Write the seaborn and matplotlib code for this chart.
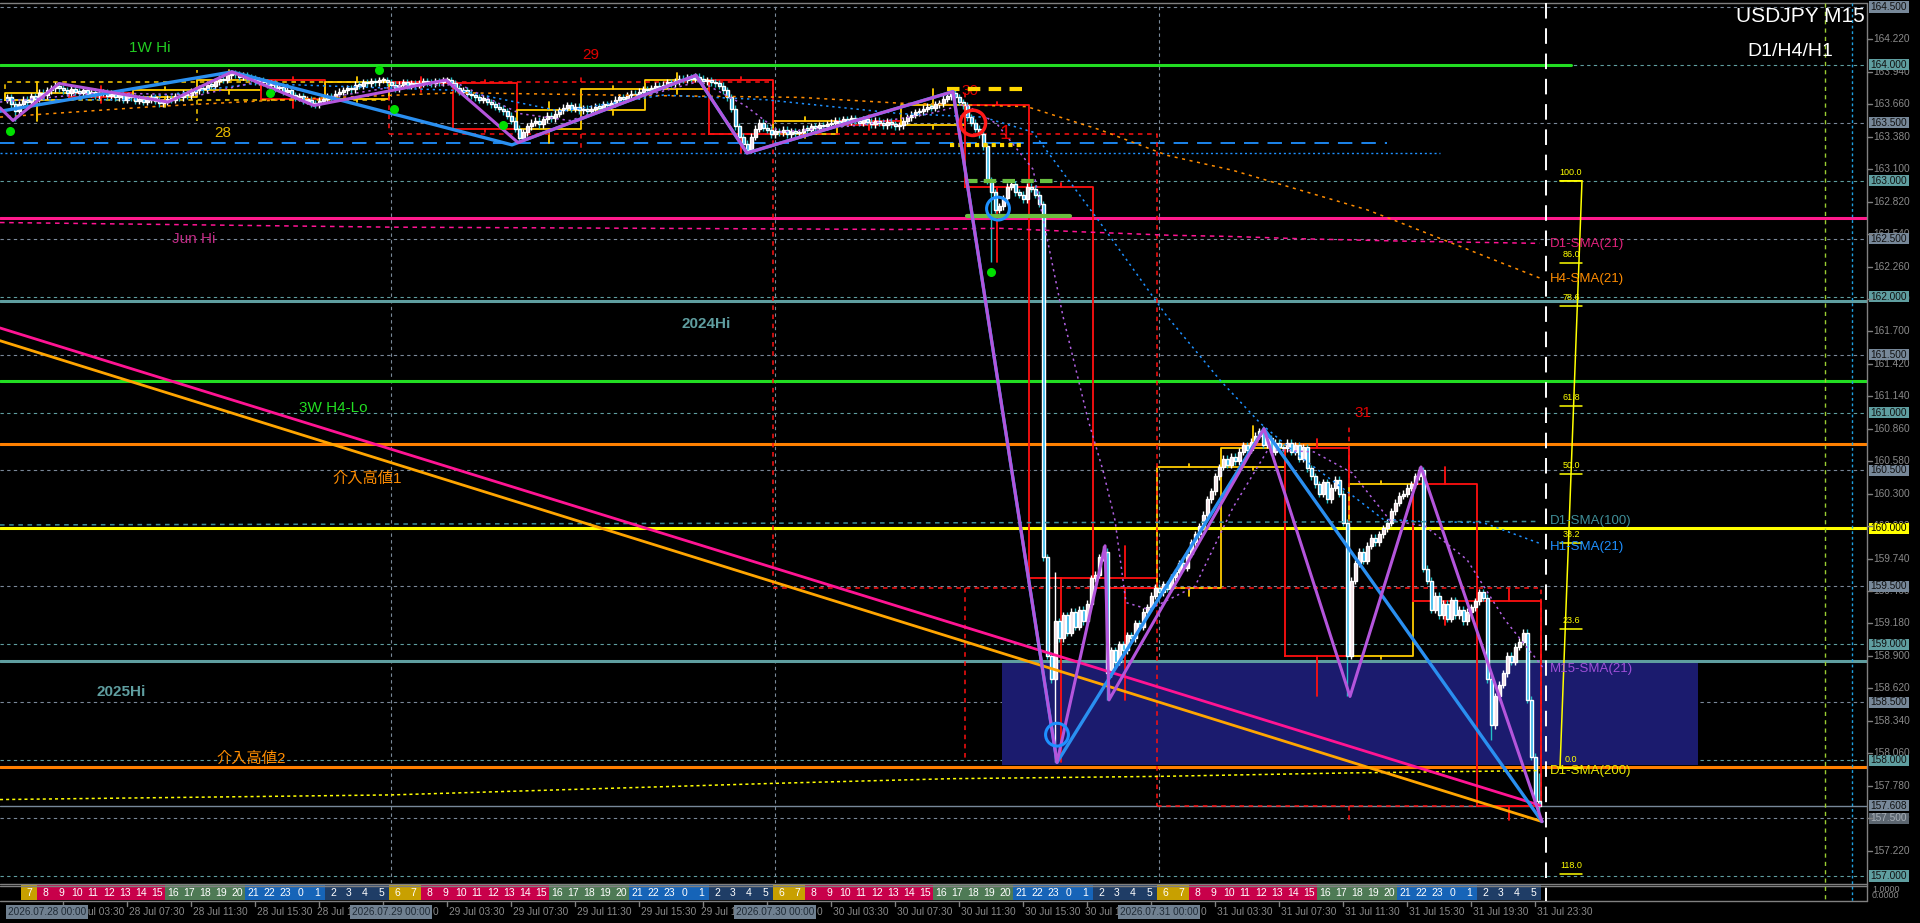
import numpy as np
import pandas as pd
import matplotlib
matplotlib.use('Agg')
import matplotlib.pyplot as plt
import matplotlib.patches as mpatches
import matplotlib.transforms as mtrans
from matplotlib.lines import Line2D
import seaborn as sns

sns.set_theme(style='dark')
plt.rcParams['font.family'] = ['Liberation Sans', 'Noto Sans CJK JP', 'DejaVu Sans']
plt.rcParams['axes.unicode_minus'] = False

# USDJPY M15 closes, 28 Jul 00:00 .. 31 Jul 23:45 server time (12 bars per row)
closes = [
    163.72, 163.66, 163.60, 163.66, 163.70, 163.68, 163.73, 163.71, 163.76, 163.74, 163.78, 163.80,
    163.82, 163.80, 163.78, 163.76, 163.79, 163.77, 163.76, 163.78, 163.75, 163.77, 163.74, 163.76,
    163.76, 163.73, 163.75, 163.72, 163.74, 163.70, 163.73, 163.72, 163.69, 163.71, 163.68, 163.70,
    163.72, 163.69, 163.67, 163.68, 163.71, 163.70, 163.73, 163.72, 163.75, 163.74, 163.77, 163.78,
    163.80, 163.79, 163.83, 163.82, 163.86, 163.88, 163.87, 163.91, 163.93, 163.92, 163.90, 163.91,
    163.89, 163.88, 163.86, 163.87, 163.85, 163.83, 163.84, 163.80, 163.81, 163.77, 163.78, 163.74,
    163.72, 163.73, 163.69, 163.70, 163.67, 163.66, 163.69, 163.71, 163.73, 163.72, 163.75, 163.77,
    163.78, 163.80, 163.79, 163.83, 163.82, 163.85, 163.84, 163.86, 163.85, 163.87, 163.87, 163.85,
    163.83, 163.80, 163.83, 163.85, 163.82, 163.84, 163.83, 163.84, 163.86, 163.85, 163.84, 163.86,
    163.85, 163.87, 163.87, 163.84, 163.80, 163.77, 163.78, 163.75, 163.74, 163.72, 163.70, 163.71,
    163.68, 163.66, 163.64, 163.62, 163.60, 163.56, 163.52, 163.45, 163.37, 163.42, 163.47, 163.50,
    163.52, 163.49, 163.53, 163.56, 163.54, 163.58, 163.61, 163.63, 163.65, 163.62, 163.64, 163.61,
    163.62, 163.60, 163.62, 163.64, 163.63, 163.66, 163.65, 163.67, 163.70, 163.72, 163.71, 163.74,
    163.75, 163.74, 163.77, 163.79, 163.78, 163.80, 163.82, 163.81, 163.83, 163.85, 163.84, 163.86,
    163.88, 163.87, 163.89, 163.88, 163.90, 163.88, 163.86, 163.87, 163.85, 163.84, 163.82, 163.78,
    163.72, 163.62, 163.47, 163.38, 163.32, 163.27, 163.38, 163.45, 163.50, 163.46, 163.44, 163.40,
    163.43, 163.42, 163.44, 163.40, 163.43, 163.41, 163.42, 163.45, 163.44, 163.47, 163.46, 163.48,
    163.47, 163.49, 163.50, 163.52, 163.50, 163.53, 163.51, 163.54, 163.52, 163.50, 163.53, 163.51,
    163.49, 163.52, 163.50, 163.48, 163.51, 163.49, 163.47, 163.48, 163.52, 163.55, 163.57, 163.59,
    163.60, 163.62, 163.64, 163.63, 163.66, 163.67, 163.71, 163.73, 163.76, 163.72, 163.68, 163.65,
    163.55, 163.50, 163.45, 163.40, 163.30, 163.00, 162.90, 162.75, 162.78, 162.85, 162.95, 162.97,
    162.90, 162.88, 162.84, 162.95, 162.93, 162.88, 162.80, 159.75, 158.90, 158.70, 159.20, 159.05,
    159.25, 159.10, 159.28, 159.15, 159.30, 159.20, 159.35, 159.57, 159.60, 159.75, 159.80, 158.75,
    158.95, 158.85, 159.00, 158.95, 159.08, 159.05, 159.18, 159.15, 159.28, 159.32, 159.42, 159.49,
    159.45, 159.52, 159.48, 159.58, 159.62, 159.70, 159.66, 159.78, 159.88, 159.95, 160.02, 160.12,
    160.25, 160.32, 160.45, 160.53, 160.60, 160.55, 160.62, 160.58, 160.66, 160.72, 160.68, 160.75,
    160.80, 160.84, 160.72, 160.78, 160.66, 160.74, 160.70, 160.69, 160.74, 160.66, 160.72, 160.60,
    160.70, 160.52, 160.45, 160.38, 160.30, 160.40, 160.25, 160.35, 160.42, 160.30, 160.05, 158.90,
    159.55, 159.70, 159.80, 159.72, 159.85, 159.92, 159.88, 159.95, 160.00, 160.05, 160.15, 160.22,
    160.28, 160.30, 160.35, 160.38, 160.45, 160.50, 159.65, 159.55, 159.30, 159.42, 159.25, 159.35,
    159.22, 159.38, 159.25, 159.30, 159.20, 159.28, 159.32, 159.37, 159.45, 159.40, 158.70, 158.30,
    158.55, 158.65, 158.75, 158.90, 158.85, 158.98, 159.02, 159.10, 158.52, 158.03, 157.65, 157.608,
]
first_open = 163.70
spike_highs = {236: 163.78, 262: 159.62, 274: 159.85, 314: 160.88, 353: 160.53, 383: 157.89}
spike_lows = {2: 163.52, 128: 163.33, 185: 163.24, 246: 162.30, 262: 157.98, 275: 158.52,
              335: 158.55, 371: 158.17, 383: 157.48}

# ZigZag turning points (bar, price)
zz_purple_bar = [-1.75, 1.5, 13, 40.25, 56.25, 76.75, 109.75, 127.75, 172.25, 185, 236.5,
                 262.5, 274.5, 275.5, 314.25, 335.75, 353.5, 383.75]
zz_purple_px = [163.63, 163.52, 163.84, 163.68, 163.94, 163.65, 163.87, 163.33, 163.91, 163.24, 163.77,
                157.98, 159.85, 158.52, 160.86, 158.55, 160.53, 157.47]
zz_blue_bar = [-1.75, 56.25, 126.25, 172.25, 185, 236.5, 262.5, 314.25, 383.75]
zz_blue_px = [163.60, 163.94, 163.31, 163.91, 163.24, 163.77, 157.98, 160.86, 157.47]

# moving averages
h4_sma_bar = [-1.75, 36.5, 74.75, 113, 151.25, 198.25, 223.25, 255, 273.25, 290, 306.5, 323.25, 340, 348.25, 383.25]
h4_sma_px = [163.55, 163.64, 163.71, 163.76, 163.74, 163.72, 163.67, 163.64, 163.44, 163.22, 163.09, 162.92, 162.75, 162.64, 162.16]
d1_sma21_bar = [-1.75, 96, 223.25, 248.25, 268.25, 290.75, 305.75, 323.25, 348.25, 383.25]
d1_sma21_px = [162.64, 162.60, 162.58, 162.59, 162.56, 162.53, 162.52, 162.50, 162.48, 162.46]
h1_sma_bar = [-1.75, 30.25, 62, 113, 138.5, 164, 189.5, 223.25, 244, 256.5, 273.25, 290, 303.25,
              313.25, 323.25, 335.75, 344, 353.25, 369, 383.25]
h1_sma_px = [163.70, 163.70, 163.84, 163.78, 163.60, 163.74, 163.70, 163.58, 163.55, 163.42, 162.64,
             161.83, 161.28, 160.91, 160.62, 160.30, 160.08, 160.06, 160.05, 159.87]
m15_sma_bar = [-1.75, 23.25, 48.25, 63.25, 80.75, 98.25, 113.25, 128.25, 140.75, 158.25, 173.25, 184.5,
               193.25, 213.25, 230.75, 239.5, 247.5, 256.5, 264, 270.25, 274, 277, 279.75, 285.5, 297,
               306.5, 315.25, 326.75, 336.25, 345.75, 354.5, 365, 374.5, 384]
m15_sma_px = [163.68, 163.76, 163.74, 163.86, 163.72, 163.82, 163.83, 163.58, 163.52, 163.72, 163.86, 163.65,
              163.42, 163.48, 163.58, 163.66, 163.49, 163.10, 161.83, 160.94, 160.50, 160.07, 159.36, 159.30, 159.50,
              160.18, 160.68, 160.66, 160.48, 160.07, 160.02, 159.73, 159.21, 158.80]
d1_sma200_bar = [-1.75, 96, 192, 235.75, 288, 335.75, 383.25]
d1_sma200_px = [157.66, 157.70, 157.80, 157.84, 157.86, 157.89, 157.91]
d1_sma100_bar = [-1.75, 383.25]
d1_sma100_px = [160.03, 160.06]

# horizontal levels
level_px = [164.00, 162.68, 161.96, 161.27, 160.73, 160.00, 158.86, 157.94]
level_colors = ['#22dd22', '#ff1a8c', '#5f9ea0', '#22dd22', '#ff8000', '#ffff00', '#5f9ea0', '#ff8000']
level_texts = ['1W Hi', 'Jun Hi', '2024Hi', '3W H4-Lo', '介入高値1', '2025Hi', '介入高値2']
level_text_bar = [35.75, 46.75, 174.75, 81.5, 90, 28.5, 61]
level_text_px = [164.15, 162.50, 161.76, 161.04, 160.43, 158.59, 158.01]
level_text_colors = ['#22cc22', '#c02a84', '#5f9ea0', '#22dd22', '#ff8c00', '#5f9ea0', '#ff8c00']
current_px = 157.608

# fibonacci
fib_labels = ['100.0', '86.0', '78.6', '61.8', '50.0', '38.2', '23.6', '0.0', '118.0']
fib_px = [163.00, 162.29, 161.92, 161.06, 160.47, 159.87, 159.13, 157.93, 157.02]

# price axis
grid_levels = [164.5, 164.0, 163.5, 163.0, 162.5, 162.0, 161.5, 161.0, 160.5, 160.0,
               159.5, 159.0, 158.5, 158.0, 157.5, 157.0]
axis_ticks = ['164.220', '163.940', '163.660', '163.380', '163.100', '162.820', '162.540', '162.260',
              '161.980', '161.700', '161.420', '161.140', '160.860', '160.580', '160.300', '160.020',
              '159.740', '159.460', '159.180', '158.900', '158.620', '158.340', '158.060', '157.780',
              '157.500', '157.220']

# time axis (text as it is visible next to the date boxes)
day_names = ['28 Jul', '29 Jul', '30 Jul', '31 Jul']
day_boxes = ['2026.07.28 00:00', '2026.07.29 00:00', '2026.07.30 00:00', '2026.07.31 00:00']
time_marks = ['03:30', '07:30', '11:30', '15:30', '19:30', '23:30']

# ---- candles table ----
opens = [first_open] + closes[:-1]
highs, lows = [], []
wick = 0.03
for i, (o, c) in enumerate(zip(opens, closes)):
    highs.append(spike_highs.get(i, max(o, c) + wick))
    lows.append(spike_lows.get(i, min(o, c) - wick))
df = pd.DataFrame({'bar': np.arange(len(closes)), 'open': opens, 'high': highs,
                   'low': lows, 'close': closes})
df['bull'] = df['close'] >= df['open']

W, H = 1920, 923
fig = plt.figure(figsize=(W / 100, H / 100), dpi=100, facecolor='black')
ax = fig.add_axes([0, 40 / H, 1867 / W, 880 / H])
ax.set_facecolor('black')
X0, X1 = -1.75, 465
ax.set_xlim(X0, X1)
ax.set_ylim(156.9398, 164.5345)
ax.axis('off')


def fig_line(x0, y0, x1, y1, **kw):
    fig.add_artist(Line2D([x0 / W, x1 / W], [1 - y0 / H, 1 - y1 / H], transform=fig.transFigure, **kw))


# grid
for g in grid_levels:
    col = '#5f9ea0' if g == int(g) else '#7a8899'
    ax.axhline(g, color=col, lw=0.8, dashes=(3, 3), zorder=1)
for b in [96, 192, 288]:
    ax.axvline(b, color='#7a8a99', lw=0.8, dashes=(3, 3), zorder=1)

# 2025Hi zone
ax.add_patch(mpatches.Rectangle((248.75, 157.96), 174, 158.86 - 157.96, fc='#1b1b6e', ec='none', zorder=1.5))

# horizontal levels
for p, c in zip(level_px, level_colors):
    if p == 164.00:
        ax.plot([X0, 391], [p, p], color=c, lw=2.2, zorder=2)
    else:
        ax.axhline(p, color=c, lw=2.2, zorder=2)
ax.axhline(current_px, color='#778899', lw=1, zorder=2)
for t, b, p, c in zip(level_texts, level_text_bar, level_text_px, level_text_colors):
    bold = 'bold' if 'Hi' in t and t[0] == '2' else 'normal'
    ax.text(b, p, t, color=c, fontsize=11, ha='center', va='center', fontweight=bold, zorder=8)

# other fixed lines
ax.plot([X0, 345], [163.33, 163.33], color='#1e90ff', lw=1.3, dashes=(8, 5), zorder=2)
ax.plot([X0, 358.25], [163.24, 163.24], color='#1e90ff', lw=1, dashes=(1.5, 2), zorder=2)
ax.plot([235, 255], [163.79, 163.79], color='#ffd700', lw=3, dashes=(3, 2), zorder=6)
ax.plot([235.75, 254.5], [163.31, 163.31], color='#ffd700', lw=3, dashes=(1, 1), zorder=6)
ax.plot([239.5, 262], [163.0, 163.0], color='#6abf40', lw=3, dashes=(3, 1.5), zorder=6)
ax.plot([240, 265.75], [162.70, 162.70], color='#6abf40', lw=3, zorder=6)

# H4 / D1 candle boxes
for period, lw, dash in [(16, 1.3, None), (96, 1.1, (3, 3))]:
    g = df.groupby(df['bar'] // period).agg(start=('bar', 'min'), open=('open', 'first'),
                                             close=('close', 'last'), high=('high', 'max'), low=('low', 'min'))
    for _, r in g.iterrows():
        col = '#ffcc00' if r['close'] >= r['open'] else '#ff1010'
        top, bot = max(r['open'], r['close']), min(r['open'], r['close'])
        kw = dict(color=col, lw=lw, zorder=3)
        if dash:
            kw['dashes'] = dash
        x0, x1 = r['start'] - 0.5, r['start'] + period - 0.5
        ax.plot([x0, x1, x1, x0, x0], [bot, bot, top, top, bot], **kw)
        xm = r['start'] + period / 2 - 0.5
        ax.plot([xm, xm], [top, r['high']], **kw)
        ax.plot([xm, xm], [bot, r['low']], **kw)

# candles
wick_cols = np.where(df['bull'], '#ffffff', '#23c0c8')
body_cols = np.where(df['bull'], '#f5dfe6', '#2fb8ea')
ax.vlines(df['bar'], df['low'], df['high'], colors=wick_cols, lw=1, zorder=4)
body = np.maximum((df['close'] - df['open']).abs(), 0.012)
ax.bar(df['bar'], body, bottom=df[['open', 'close']].min(axis=1), width=0.75, color=body_cols, zorder=4.5)

# moving averages
sns.lineplot(x=h4_sma_bar, y=h4_sma_px, ax=ax, color='#ff8c00', lw=1.1, linestyle=(0, (2, 3)), zorder=5)
sns.lineplot(x=d1_sma21_bar, y=d1_sma21_px, ax=ax, color='#ff1493', lw=1.1, linestyle=(0, (3, 3)), zorder=5)
sns.lineplot(x=h1_sma_bar, y=h1_sma_px, ax=ax, color='#1e90ff', lw=1.1, linestyle=(0, (1.5, 2.5)), zorder=5)
sns.lineplot(x=m15_sma_bar, y=m15_sma_px, ax=ax, color='#b060e0', lw=1.1, linestyle=(0, (1.5, 2.5)), zorder=5)
sns.lineplot(x=d1_sma200_bar, y=d1_sma200_px, ax=ax, color='#ffff00', lw=1.1, linestyle=(0, (2, 2)), zorder=5)
sns.lineplot(x=d1_sma100_bar, y=d1_sma100_px, ax=ax, color='#3f8f99', lw=1.1, linestyle=(0, (3, 3)), zorder=5)

# trend lines
ax.plot([X0, 383.25], [161.73, 157.61], color='#ff1493', lw=2, zorder=6)
ax.plot([X0, 383.75], [161.62, 157.47], color='#ffa500', lw=2, zorder=6)

# zigzags
sns.lineplot(x=zz_blue_bar, y=zz_blue_px, ax=ax, color='#2a8ff0', lw=2.4, sort=False, estimator=None, zorder=6.5)
sns.lineplot(x=zz_purple_bar, y=zz_purple_px, ax=ax, color='#b455dc', lw=2.2, sort=False, estimator=None, zorder=6.6)

# markers
ax.scatter([0.75, 65.75, 93, 96.75, 124, 246], [163.43, 163.76, 163.96, 163.62, 163.48, 162.21],
           s=30, color='#00e000', zorder=7)
ax.scatter([241.5], [163.50], s=330, facecolors='none', edgecolors='#ff1a1a', lw=2.5, zorder=7)
ax.scatter([247.75, 262.5], [162.76, 158.22], s=270, facecolors='none', edgecolors='#1e90ff', lw=2.2, zorder=7)

# day numbers
ax.text(54, 163.41, '28', color='#e6b800', fontsize=11, ha='center', va='center', zorder=8)
ax.text(146, 164.09, '29', color='#e00000', fontsize=11, ha='center', va='center', zorder=8)
ax.text(240.75, 163.775, '30', color='#e00000', fontsize=11, ha='center', va='center', zorder=5.9)
ax.text(249.5, 163.41, '1', color='#e00000', fontsize=15, ha='center', va='center', zorder=8)
ax.text(339, 161.00, '31', color='#e00000', fontsize=11, ha='center', va='center', zorder=8)

# fibonacci tool
ax.plot([388.25, 393.75, 388.25], [163.0, 163.0, 157.93], color='#ffff00', lw=1.1, zorder=7, clip_on=False)
for lab, p in zip(fib_labels, fib_px):
    ax.plot([388.25, 393.75], [p, p], color='#ffff00', lw=1.1, zorder=7)
    ax.text(391, p + 0.035, lab, color='#ffff00', fontsize=6.5, ha='center', va='bottom', zorder=7)

# SMA labels
sma_labels = ['D1-SMA(21)', 'H4-SMA(21)', 'D1-SMA(100)', 'H1-SMA(21)', 'M15-SMA(21)', 'D1-SMA(200)']
sma_label_px = [162.455, 162.15, 160.064, 159.84, 158.787, 157.906]
sma_label_cols = ['#e0207a', '#ff8c00', '#3f8f99', '#1e90ff', '#9f50d8', '#e8e800']
for t, p, c in zip(sma_labels, sma_label_px, sma_label_cols):
    ax.text(385.75, p, t, color=c, fontsize=9.5, ha='left', va='center', zorder=8)

# title texts
fig.text(1865 / W, 1 - 17 / H, 'USDJPY M15', color='white', fontsize=15, ha='right', va='center')
fig.text(1833 / W, 1 - 52 / H, 'D1/H4/H1', color='white', fontsize=14, ha='right', va='center')

# frame lines
fig_line(0, 3, 1867, 3, color='#808080', lw=1)
fig_line(0, 883.5, 1867, 883.5, color='#808080', lw=1)
fig_line(0, 885.5, 1867, 885.5, color='#808080', lw=1)
fig_line(0, 901, 1867, 901, color='#808080', lw=1)
fig_line(1867, 3, 1867, 901, color='#808080', lw=1)
fig_line(1546, 3, 1546, 901, color='white', lw=1.4, dashes=(8, 5))
fig_line(1825, 3, 1825, 901, color='#9acd32', lw=1, dashes=(3, 3))
fig_line(1852, 3, 1852, 901, color='#1ea0e0', lw=1, dashes=(2, 2))

# price axis
price_tf = mtrans.blended_transform_factory(fig.transFigure, ax.transData)
for t in axis_ticks:
    p = float(t)
    fig.add_artist(Line2D([1867 / W, 1872 / W], [p, p], transform=price_tf, color='#808080', lw=1))
    ax.text(1873 / W, p, t, transform=price_tf, color='#8a8a8a', fontsize=7.3, ha='left', va='center',
            clip_on=False, zorder=20)


def axis_box(p, text, fc, tc):
    ax.add_patch(mpatches.Rectangle((1869 / W, p - 0.048), 40 / W, 0.096, transform=price_tf,
                                    fc=fc, ec='none', clip_on=False, zorder=21))
    ax.text(1889 / W, p, text, transform=price_tf, color=tc, fontsize=7.3, ha='center', va='center',
            clip_on=False, zorder=22)


for g in grid_levels:
    if g == 160.0:
        axis_box(g, '160.000', '#ffff00', '#000000')
    elif g == 157.5:
        axis_box(g, '157.500', '#5c6670', '#a8b0b8')
    elif g == int(g):
        axis_box(g, f'{g:.3f}', '#5f9ea0', '#111111')
    else:
        axis_box(g, f'{g:.3f}', '#778899', '#111111')
axis_box(current_px, f'{current_px:.3f}', '#778899', '#111111')
fig.text(1872 / W, 1 - 889 / H, '1.0000', color='#8a8a8a', fontsize=6.5, va='center')
fig.text(1872 / W, 1 - 895 / H, '0.0000', color='#8a8a8a', fontsize=6.5, va='center')

# session (hours) bar
ax_h = fig.add_axes([0, 23 / H, 1867 / W, 15 / H])
ax_h.set_xlim(X0, X1)
ax_h.set_ylim(0, 1)
ax_h.axis('off')


def session_color(jst):
    if jst in (6, 7):
        return '#c8a000'
    if 8 <= jst <= 15:
        return '#c8004a'
    if 16 <= jst <= 20:
        return '#4e7a55'
    if jst >= 21 or jst <= 1:
        return '#1664b8'
    return '#1f3d66'


for h in range(1, len(closes) // 4):
    jst = (h % 24 + 6) % 24
    ax_h.add_patch(mpatches.Rectangle((4 * h - 0.5, 0), 4, 1, fc=session_color(jst), ec='none'))
    ax_h.text(4 * h + 1.5, 0.5, str(jst), color='white', fontsize=7.5, ha='center', va='center')

# time axis labels; the date boxes hide part of the neighbouring labels
tl = mtrans.blended_transform_factory(ax.transData, fig.transFigure)
ty = 1 - 912 / H
for d, name in enumerate(day_names):
    for k, tm in enumerate(time_marks):
        b = d * 96 + 14 + 16 * k
        fig.add_artist(Line2D([b, b], [1 - 902 / H, 1 - 906 / H], transform=tl, color='#808080', lw=1))
        label = f'{name} {tm}'
        xb = b + 0.5
        if d == 0 and k == 0:
            label, xb = f'Jul {tm}', 19
        elif d < 3 and k == 4:
            label, xb = f'{name} 1', b - 0.5
        elif d < 3 and k == 5:
            label, xb = tm[-1], (d + 1) * 96 + 10.5
        fig.text(xb, ty, label, transform=tl, color='#8a8a8a', fontsize=7.3, ha='left', va='center')
for d, lab in enumerate(day_boxes):
    b = d * 96
    ha = 'left' if d == 0 else 'center'
    fig.text(b if d else 0.2, ty, lab, transform=tl, color='#1f2a35', fontsize=7.2, ha=ha,
             va='center', bbox=dict(boxstyle='square,pad=0.2', fc='#708090', ec='none'), zorder=5)

fig.savefig('out.png', dpi=100, facecolor='black')
